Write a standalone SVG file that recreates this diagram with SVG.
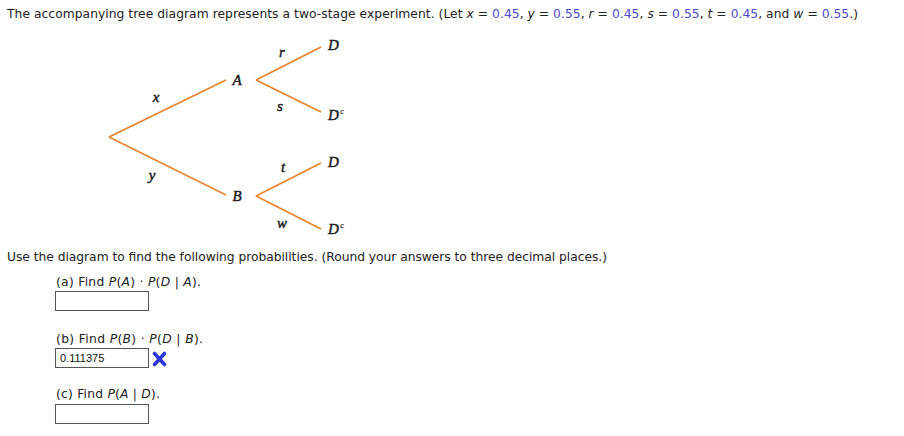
<svg xmlns="http://www.w3.org/2000/svg" width="904" height="436" viewBox="0 0 904 436">
<style>
.t{font-family:"DejaVu Sans",Verdana,sans-serif;font-size:12.3px;fill:#222}
.n{fill:#4a4ad0}
.i{font-style:italic}
.lbl{font-family:"Liberation Serif","Times New Roman",serif;font-size:15px;font-style:italic;fill:#1a1a1a;stroke:#1a1a1a;stroke-width:0.45}
.sup{font-size:8px;stroke-width:0.15}
.br{stroke:#e8832a;stroke-width:1.6;fill:none}
.box{fill:#fff;stroke:#555;stroke-width:1}
</style>
<rect width="904" height="436" fill="#fff"/>
<text class="t" x="7" y="18" textLength="851" lengthAdjust="spacing">The accompanying tree diagram represents a two-stage experiment. (Let <tspan class="i">x</tspan> = <tspan class="n">0.45</tspan>, <tspan class="i">y</tspan> = <tspan class="n">0.55</tspan>, <tspan class="i">r</tspan> = <tspan class="n">0.45</tspan>, <tspan class="i">s</tspan> = <tspan class="n">0.55</tspan>, <tspan class="i">t</tspan> = <tspan class="n">0.45</tspan>, and <tspan class="i">w</tspan> = <tspan class="n">0.55</tspan>.)</text>
<g id="connectors">
<line class="br" x1="109" y1="137" x2="226" y2="80"/>
<line class="br" x1="109" y1="137" x2="226" y2="195"/>
<line class="br" x1="256" y1="80" x2="321" y2="47"/>
<line class="br" x1="256" y1="80" x2="321" y2="112"/>
<line class="br" x1="256" y1="196" x2="321" y2="163"/>
<line class="br" x1="256" y1="196" x2="321" y2="229"/>
</g>
<g id="edge-labels">
<text class="lbl" x="156" y="102" text-anchor="middle">x</text>
<text class="lbl" x="152" y="180" text-anchor="middle">y</text>
<text class="lbl" x="282" y="57" text-anchor="middle">r</text>
<text class="lbl" x="280" y="111" text-anchor="middle">s</text>
<text class="lbl" x="283" y="172" text-anchor="middle">t</text>
<text class="lbl" x="282" y="228" text-anchor="middle">w</text>
</g>
<g id="node-A"><text class="lbl" x="237" y="85" text-anchor="middle">A</text></g>
<g id="node-B"><text class="lbl" x="237" y="201" text-anchor="middle">B</text></g>
<g id="node-D1"><text class="lbl" x="328" y="50">D</text></g>
<g id="node-Dc1"><text class="lbl" x="328" y="120">D<tspan class="sup" dx="1.5" dy="-6">c</tspan></text></g>
<g id="node-D2"><text class="lbl" x="328" y="167">D</text></g>
<g id="node-Dc2"><text class="lbl" x="328" y="234">D<tspan class="sup" dx="1.5" dy="-6">c</tspan></text></g>
<text class="t" x="7" y="261" textLength="600" lengthAdjust="spacing">Use the diagram to find the following probabilities. (Round your answers to three decimal places.)</text>
<text class="t" x="56" y="286" textLength="145" lengthAdjust="spacing">(a) Find <tspan class="i">P</tspan>(<tspan class="i">A</tspan>) · <tspan class="i">P</tspan>(<tspan class="i">D</tspan> | <tspan class="i">A</tspan>).</text>
<rect class="box" x="55.5" y="291.5" width="93" height="19"/>
<text class="t" x="56" y="343" textLength="147" lengthAdjust="spacing">(b) Find <tspan class="i">P</tspan>(<tspan class="i">B</tspan>) · <tspan class="i">P</tspan>(<tspan class="i">D</tspan> | <tspan class="i">B</tspan>).</text>
<rect class="box" x="55.5" y="348.5" width="93" height="19"/>
<text x="60" y="362" style="font-family:'Liberation Sans',Arial,sans-serif;font-size:11px;fill:#111">0.111375</text>
<path d="M154.5,353.5 L164.5,364.5 M164.5,353.5 L154.5,364.5" stroke="#2b36d9" stroke-width="3.6" stroke-linecap="round"/>
<text class="t" x="56" y="398" textLength="104" lengthAdjust="spacing">(c) Find <tspan class="i">P</tspan>(<tspan class="i">A</tspan> | <tspan class="i">D</tspan>).</text>
<rect class="box" x="55.5" y="404.5" width="93" height="19"/>
</svg>
